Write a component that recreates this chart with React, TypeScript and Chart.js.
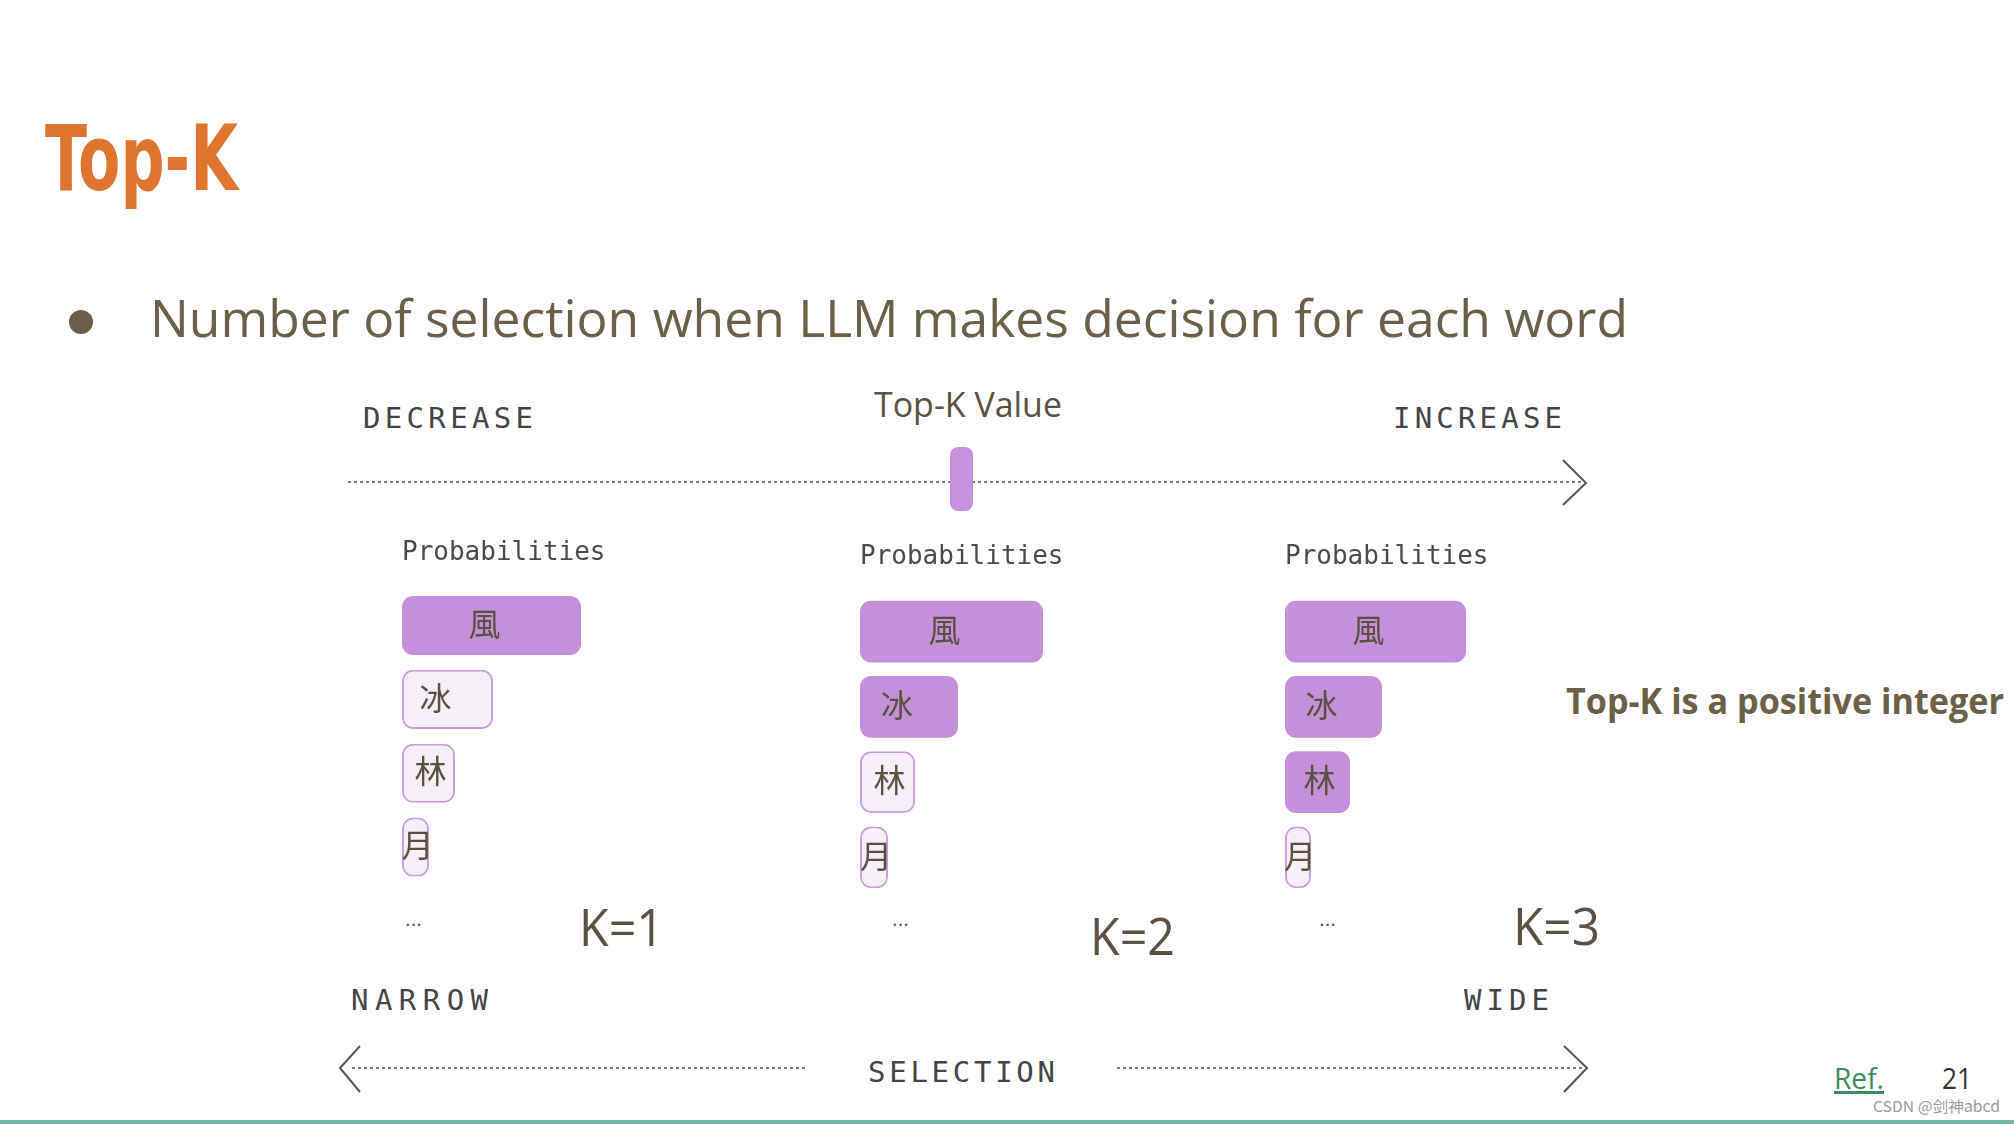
import React, { useEffect, useRef } from 'react';
import { Chart, registerables } from 'chart.js';

Chart.register(...registerables);

// ---- data ----
const tokens = ['風', '冰', '林', '月'];
const kValues = [1, 2, 3];
const probsK1 = [0.4475, 0.2275, 0.1325, 0.0675];
const probsK2 = [0.4575, 0.245, 0.1375, 0.07];
const probsK3 = [0.4525, 0.2425, 0.1625, 0.065];
const panelProbs = [probsK1, probsK2, probsK3];
const xMax = 0.7;

const SEL = '#C78FDB';
const UNSEL = '#F7EFF8';
const BORDER = '#CE9CE0';

const labelPlugin = {
  id: 'tokenLabels',
  afterDatasetsDraw(chart: any) {
    const meta = chart.getDatasetMeta(0);
    const ctx = chart.ctx;
    ctx.save();
    ctx.font = '32px "Noto Sans CJK TC", "Noto Sans CJK SC", sans-serif';
    ctx.fillStyle = '#5b4f3d';
    ctx.textAlign = 'center';
    ctx.textBaseline = 'middle';
    meta.data.forEach((bar: any, i: number) => {
      const { x, y, base } = bar.getProps(['x', 'y', 'base'], true);
      const w = x - base;
      const mid = (x + base) / 2;
      const cx = w > 150 ? mid - 7 : w > 80 ? mid - 12 : mid + 2;
      ctx.fillText(chart.data.labels[i], cx, y - 2);
    });
    ctx.restore();
  },
};

type PanelProps = {
  k: number;
  probs: number[];
  left: number;
  top: number;
  height: number;
  padTop: number;
  padBottom: number;
  barPct: number;
};

const CANVAS_W = 280;

function ProbChart({ k, probs, left, top, height, padTop, padBottom, barPct }: PanelProps) {
  const ref = useRef<HTMLCanvasElement>(null);
  useEffect(() => {
    if (!ref.current) return;
    const chart = new Chart(ref.current, {
      type: 'bar',
      data: {
        labels: tokens,
        datasets: [
          {
            data: probs,
            backgroundColor: probs.map((_, i) => (i < k ? SEL : UNSEL)),
            borderColor: probs.map((_, i) => (i < k ? SEL : BORDER)),
            borderWidth: probs.map((_, i) => (i < k ? 0 : 2)),
            borderRadius: 11,
            borderSkipped: false,
            barPercentage: barPct,
            categoryPercentage: 1,
          },
        ],
      },
      options: {
        indexAxis: 'y',
        responsive: false,
        maintainAspectRatio: false,
        animation: false,
        layout: { padding: 0 },
        scales: {
          x: { display: false, min: 0, max: xMax },
          y: { display: false },
        },
        plugins: {
          legend: { display: false },
          tooltip: { enabled: false },
          title: {
            display: true,
            text: 'Probabilities',
            align: 'start',
            color: '#4a4a4a',
            font: { family: '"DejaVu Sans Mono", monospace', size: 26, weight: 'normal', lineHeight: 1.2 },
            padding: { top: padTop, bottom: padBottom },
          },
        },
      } as any,
      plugins: [labelPlugin],
    });
    return () => chart.destroy();
  }, []);
  return (
    <canvas
      ref={ref}
      width={CANVAS_W}
      height={height}
      style={{ position: 'absolute', left, top, width: CANVAS_W, height }}
    />
  );
}

const monoFont = '"DejaVu Sans Mono", monospace';
const sansFont = '"Open Sans", "Noto Sans", sans-serif';

export default function App() {
  return (
    <div
      style={{
        position: 'fixed',
        left: 0,
        top: 0,
        width: 2014,
        height: 1124,
        background: '#ffffff',
        overflow: 'hidden',
      }}
    >
      <svg width={2014} height={1124} style={{ position: 'absolute', left: 0, top: 0 }}>
        <text
          x={45}
          y={190}
          fontFamily='"Liberation Sans Narrow", "DejaVu Sans Condensed", sans-serif'
          fontWeight="bold"
          fontSize={90}
          fill="#E07530"
          textLength={193}
          lengthAdjust="spacingAndGlyphs"
        >
          Top-K
        </text>
        <circle cx={81} cy={322} r={12} fill="#6b5f48" />
        <text
          x={150}
          y={337}
          fontFamily={sansFont}
          fontSize={52}
          fill="#6b5f47"
          textLength={1478}
          lengthAdjust="spacingAndGlyphs"
        >
          Number of selection when LLM makes decision for each word
        </text>

        <text x={363} y={428} fontFamily={monoFont} fontSize={29} fill="#444" textLength={170} lengthAdjust="spacing">
          DECREASE
        </text>
        <text x={874} y={417} fontFamily={sansFont} fontSize={34} fill="#5a5040" textLength={188} lengthAdjust="spacingAndGlyphs">
          Top-K Value
        </text>
        <text x={1393} y={428} fontFamily={monoFont} fontSize={29} fill="#444" textLength={169} lengthAdjust="spacing">
          INCREASE
        </text>

        <line x1={348} y1={482} x2={1584} y2={482} stroke="#777" strokeWidth={2} strokeDasharray="3 3" />
        <polyline points="1563,460 1586,483 1563,505" fill="none" stroke="#555" strokeWidth={2} />
        <rect x={950} y={447} width={23} height={64} rx={8} fill="#C990DD" />

        {/* ellipsis under each list */}
        <text x={403} y={926} fontFamily={monoFont} fontSize={16} fill="#555" textLength={21} lengthAdjust="spacing">...</text>
        <text x={890} y={926} fontFamily={monoFont} fontSize={16} fill="#555" textLength={21} lengthAdjust="spacing">...</text>
        <text x={1317} y={926} fontFamily={monoFont} fontSize={16} fill="#555" textLength={21} lengthAdjust="spacing">...</text>

        <text x={579} y={946} fontFamily={sansFont} fontSize={52} fill="#5c5040" textLength={85} lengthAdjust="spacingAndGlyphs">
          {`K=${kValues[0]}`}
        </text>
        <text x={1090} y={955} fontFamily={sansFont} fontSize={52} fill="#5c5040" textLength={85} lengthAdjust="spacingAndGlyphs">
          {`K=${kValues[1]}`}
        </text>
        <text x={1513} y={945} fontFamily={sansFont} fontSize={52} fill="#5c5040" textLength={87} lengthAdjust="spacingAndGlyphs">
          {`K=${kValues[2]}`}
        </text>

        <text
          x={1566}
          y={714}
          fontFamily={sansFont}
          fontWeight="bold"
          fontSize={35}
          fill="#6b5f45"
          textLength={438}
          lengthAdjust="spacingAndGlyphs"
        >
          Top-K is a positive integer
        </text>

        <text x={351} y={1010} fontFamily={monoFont} fontSize={29} fill="#444" textLength={137} lengthAdjust="spacing">
          NARROW
        </text>
        <text x={1464} y={1010} fontFamily={monoFont} fontSize={29} fill="#444" textLength={85} lengthAdjust="spacing">
          WIDE
        </text>
        <text x={868} y={1082} fontFamily={monoFont} fontSize={29} fill="#444" textLength={187} lengthAdjust="spacing">
          SELECTION
        </text>
        <line x1={352} y1={1068} x2={808} y2={1068} stroke="#777" strokeWidth={2} strokeDasharray="3 3" />
        <line x1={1117} y1={1068} x2={1582} y2={1068} stroke="#777" strokeWidth={2} strokeDasharray="3 3" />
        <polyline points="360,1046 340,1068 360,1092" fill="none" stroke="#555" strokeWidth={2} />
        <polyline points="1564,1046 1587,1068 1564,1092" fill="none" stroke="#555" strokeWidth={2} />

        <text
          x={1834}
          y={1089}
          fontFamily={sansFont}
          fontSize={30}
          fill="#3a8c60"
          textDecoration="underline"
          textLength={50}
          lengthAdjust="spacingAndGlyphs"
        >
          Ref.
        </text>
        <text x={1942} y={1089} fontFamily={sansFont} fontSize={30} fill="#333" textLength={30} lengthAdjust="spacingAndGlyphs">
          21
        </text>
        <text
          x={1873}
          y={1112}
          fontFamily='"Noto Sans CJK SC", "DejaVu Sans", sans-serif'
          fontSize={15}
          fill="#9a9a9a"
          textLength={127}
          lengthAdjust="spacingAndGlyphs"
        >
          CSDN @剑神abcd
        </text>
        <rect x={0} y={1120} width={2014} height={4} fill="#6fb8a9" />
      </svg>

      <ProbChart k={kValues[0]} probs={panelProbs[0]} left={402} top={530} height={354} padTop={7.7} padBottom={19.7} barPct={0.8} />
      <ProbChart k={kValues[1]} probs={panelProbs[1]} left={860} top={535} height={360} padTop={6.7} padBottom={21.2} barPct={0.82} />
      <ProbChart k={kValues[2]} probs={panelProbs[2]} left={1285} top={535} height={360} padTop={6.7} padBottom={21.2} barPct={0.82} />
    </div>
  );
}
